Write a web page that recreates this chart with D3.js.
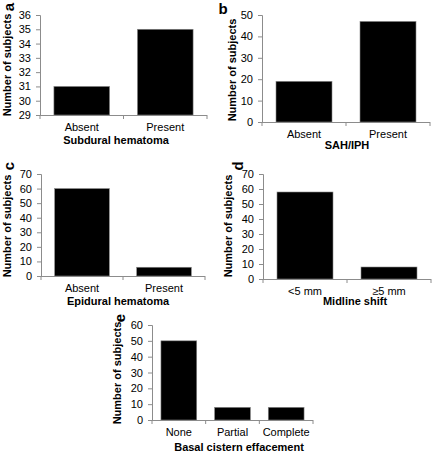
<!DOCTYPE html>
<html><head><meta charset="utf-8">
<script src="https://cdn.jsdelivr.net/npm/d3@7/dist/d3.min.js"></script>
<style>
body{margin:0;background:#fff;}
text{font-family:"Liberation Sans",Arial,sans-serif;}
</style></head>
<body>
<svg id="c" width="432" height="454"></svg>
<script>
// ---- data ----
const catsA = ["Absent", "Present"];
const valsA = [31, 35];
const ticksA = [29, 30, 31, 32, 33, 34, 35, 36];

const catsB = ["Absent", "Present"];
const valsB = [19, 47];
const ticksB = [0, 10, 20, 30, 40, 50];

const catsC = ["Absent", "Present"];
const valsC = [60, 6];
const ticksC = [0, 10, 20, 30, 40, 50, 60, 70];

const catsD = ["<5 mm", "\u22655 mm"];
const valsD = [58, 8];
const ticksD = [0, 10, 20, 30, 40, 50, 60, 70];

const catsE = ["None", "Partial", "Complete"];
const valsE = [50, 8, 8];
const ticksE = [0, 10, 20, 30, 40, 50, 60];

const titles = ["Subdural hematoma", "SAH/IPH", "Epidural hematoma", "Midline shift", "Basal cistern effacement"];
const letters = ["a", "b", "c", "d", "e"];
const yLabel = "Number of subjects";

// ---- layout ----
const panels = [
  {cats: catsA, vals: valsA, ticks: ticksA, x0: 40, x1: 207, yT: 15, yB: 115, title: titles[0], tx: 116, ty: 144,
   lx: 7, ly: 65, letter: letters[0], ltx: 8, lty: 7, rot: true},
  {cats: catsB, vals: valsB, ticks: ticksB, x0: 262, x1: 430, yT: 15, yB: 122, title: titles[1], tx: 347, ty: 149,
   lx: 232, ly: 70, letter: letters[1], ltx: 223, lty: 8, rot: false},
  {cats: catsC, vals: valsC, ticks: ticksC, x0: 41, x1: 205, yT: 174, yB: 276, title: titles[2], tx: 118, ty: 305,
   lx: 7, ly: 226, letter: letters[2], ltx: 8, lty: 166, rot: true},
  {cats: catsD, vals: valsD, ticks: ticksD, x0: 263, x1: 431, yT: 174, yB: 279, title: titles[3], tx: 355, ty: 305,
   lx: 228, ly: 226, letter: letters[3], ltx: 237, lty: 166, rot: true},
  {cats: catsE, vals: valsE, ticks: ticksE, x0: 152, x1: 313, yT: 325, yB: 420, title: titles[4], tx: 239, ty: 451,
   lx: 117, ly: 373, letter: letters[4], ltx: 119, lty: 318, rot: true}
];

const svg = d3.select("#c");
const axisColor = "#8c8c8c";

panels.forEach(p => {
  const g = svg.append("g");
  const x = d3.scaleBand().domain(p.cats).range([p.x0, p.x1]).paddingInner(1/3).paddingOuter(1/6);
  const y = d3.scaleLinear().domain([p.ticks[0], p.ticks[p.ticks.length - 1]]).range([p.yB, p.yT]);

  // y axis
  const ya = g.append("g").attr("transform", `translate(${p.x0},0)`)
    .call(d3.axisLeft(y).tickValues(p.ticks).tickSize(4).tickPadding(5).tickFormat(d3.format("d")));
  ya.select(".domain").attr("stroke", axisColor);
  ya.selectAll(".tick line").attr("stroke", axisColor);
  ya.selectAll(".tick text").attr("font-size", 11).attr("fill", "#000")
    .attr("font-family", "Liberation Sans, Arial, sans-serif");

  // x axis line + boundary ticks
  g.append("line").attr("x1", p.x0).attr("x2", p.x1).attr("y1", p.yB + 0.5).attr("y2", p.yB + 0.5)
    .attr("stroke", axisColor);
  const step = x.step();
  const bounds = d3.range(p.cats.length + 1).map(i => p.x0 + i * step);
  g.selectAll(".bt").data(bounds).enter().append("line")
    .attr("x1", d => d).attr("x2", d => d).attr("y1", p.yB).attr("y2", p.yB + 4)
    .attr("stroke", axisColor);

  // bars
  g.selectAll(".bar").data(p.cats).enter().append("rect")
    .attr("x", d => x(d)).attr("width", x.bandwidth())
    .attr("y", (d, i) => y(p.vals[i])).attr("height", (d, i) => p.yB - y(p.vals[i]))
    .attr("fill", "#000").attr("stroke", "#888").attr("stroke-width", 0.6);

  // category labels
  g.selectAll(".cl").data(p.cats).enter().append("text")
    .attr("x", d => x(d) + x.bandwidth() / 2).attr("y", p.yB + 16)
    .attr("text-anchor", "middle").attr("font-size", 11).attr("fill", "#000").text(d => d);

  // x title
  g.append("text").attr("x", p.tx).attr("y", p.ty).attr("text-anchor", "middle")
    .attr("font-size", 11).attr("font-weight", "bold").attr("fill", "#000").text(p.title);

  // y label
  g.append("text").attr("transform", `translate(${p.lx},${p.ly}) rotate(-90)`)
    .attr("text-anchor", "middle").attr("dominant-baseline", "central")
    .attr("font-size", 11).attr("font-weight", "bold").attr("fill", "#000").text(yLabel);

  // panel letter
  g.append("text").attr("transform", `translate(${p.ltx},${p.lty})` + (p.rot ? " rotate(-90)" : ""))
    .attr("text-anchor", "middle").attr("dominant-baseline", "central")
    .attr("font-size", 15).attr("font-weight", "bold").attr("fill", "#000").text(p.letter);
});
</script>
</body></html>
